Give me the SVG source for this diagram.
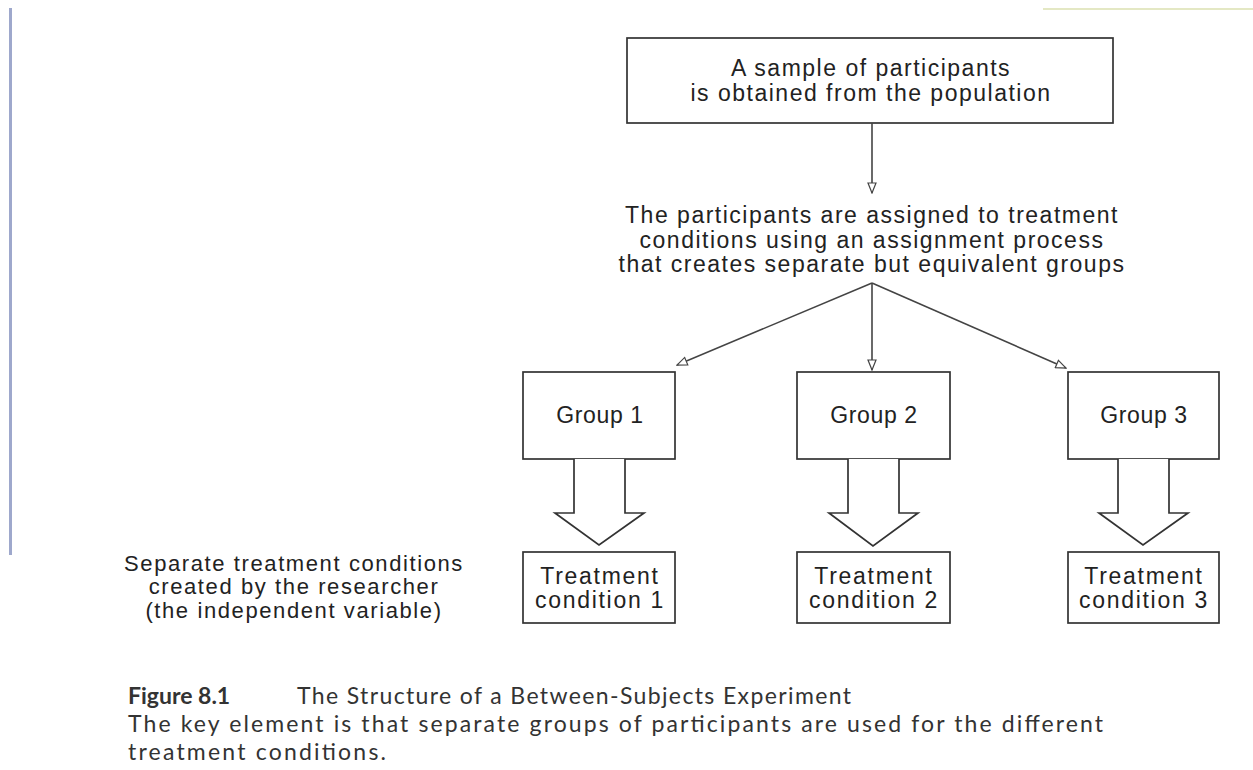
<svg xmlns="http://www.w3.org/2000/svg" width="1253" height="770" viewBox="0 0 1253 770">
<style>
.t{font-family:"Liberation Sans",Arial,sans-serif;font-size:23px;fill:#222;text-anchor:middle;letter-spacing:1.5px}
.g{letter-spacing:0.6px}
.tc{letter-spacing:1.7px}
.lb{font-size:22px;letter-spacing:1.6px}
.box{fill:none;stroke:#333;stroke-width:1.7}
.ln{fill:none;stroke:#444;stroke-width:1.6}
.blk{fill:#fff;stroke:#333;stroke-width:1.7;stroke-linejoin:miter}
.cap{font-family:Lato,"Open Sans",sans-serif;font-size:23px;fill:#333}
</style>
<defs>
<marker id="ah" viewBox="0 0 12 10" refX="11" refY="5" markerWidth="12" markerHeight="10" orient="auto" markerUnits="userSpaceOnUse">
<path d="M1,1 L11,5 L1,9 Z" fill="#fff" stroke="#444" stroke-width="1.2"/>
</marker>
</defs>
<rect width="1253" height="770" fill="#fff"/>
<line x1="10.5" y1="8" x2="10.5" y2="555" stroke="#9ea8cc" stroke-width="3"/>
<line x1="1043" y1="9" x2="1253" y2="9" stroke="#e4e8c4" stroke-width="2"/>

<g id="sample">
<rect class="box" x="627" y="38" width="486" height="85"/>
<text class="t" x="871" y="76">A sample of participants</text>
<text class="t" x="871" y="101">is obtained from the population</text>
</g>

<g id="assign">
<text class="t" x="872" y="223">The participants are assigned to treatment</text>
<text class="t" x="872" y="248">conditions using an assignment process</text>
<text class="t" x="872" y="272">that creates separate but equivalent groups</text>
</g>

<g id="group1"><rect class="box" x="523" y="372" width="152" height="87"/><text class="t g" x="600" y="423">Group 1</text></g>
<g id="group2"><rect class="box" x="797" y="372" width="153" height="87"/><text class="t g" x="874" y="423">Group 2</text></g>
<g id="group3"><rect class="box" x="1068" y="372" width="151" height="87"/><text class="t g" x="1144" y="423">Group 3</text></g>

<g id="tc1"><rect class="box" x="523" y="552" width="152" height="71"/><text class="t tc" x="600" y="584">Treatment</text><text class="t tc" x="600" y="608">condition 1</text></g>
<g id="tc2"><rect class="box" x="797" y="552" width="153" height="71"/><text class="t tc" x="874" y="584">Treatment</text><text class="t tc" x="874" y="608">condition 2</text></g>
<g id="tc3"><rect class="box" x="1068" y="552" width="151" height="71"/><text class="t tc" x="1144" y="584">Treatment</text><text class="t tc" x="1144" y="608">condition 3</text></g>

<g id="label">
<text class="t lb" x="294" y="571">Separate treatment conditions</text>
<text class="t lb" x="294" y="594">created by the researcher</text>
<text class="t lb" x="294" y="618">(the independent variable)</text>
</g>

<g id="connectors">
<line class="ln" x1="872" y1="123" x2="872" y2="193" marker-end="url(#ah)"/>
<line class="ln" x1="872" y1="283" x2="677" y2="365" marker-end="url(#ah)"/>
<line class="ln" x1="872" y1="283" x2="872" y2="370" marker-end="url(#ah)"/>
<line class="ln" x1="872" y1="283" x2="1066" y2="368" marker-end="url(#ah)"/>
<path class="blk" d="M574,459 V513 H555 L599,545 L644,513 H625 V459"/>
<path class="blk" d="M848,459 V513 H829 L873,546 L918,513 H899 V459"/>
<path class="blk" d="M1118,459 V513 H1099 L1143,545 L1188,513 H1169 V459"/>
</g>

<g id="caption">
<text class="cap" x="128" y="704" font-weight="bold" fill="#222">Figure 8.1</text>
<text class="cap" x="297" y="704" textLength="554" lengthAdjust="spacing">The Structure of a Between-Subjects Experiment</text>
<text class="cap" x="128" y="732" textLength="975" lengthAdjust="spacing">The key element is that separate groups of participants are used for the different</text>
<text class="cap" x="128" y="760" textLength="258" lengthAdjust="spacing">treatment conditions.</text>
</g>
</svg>
